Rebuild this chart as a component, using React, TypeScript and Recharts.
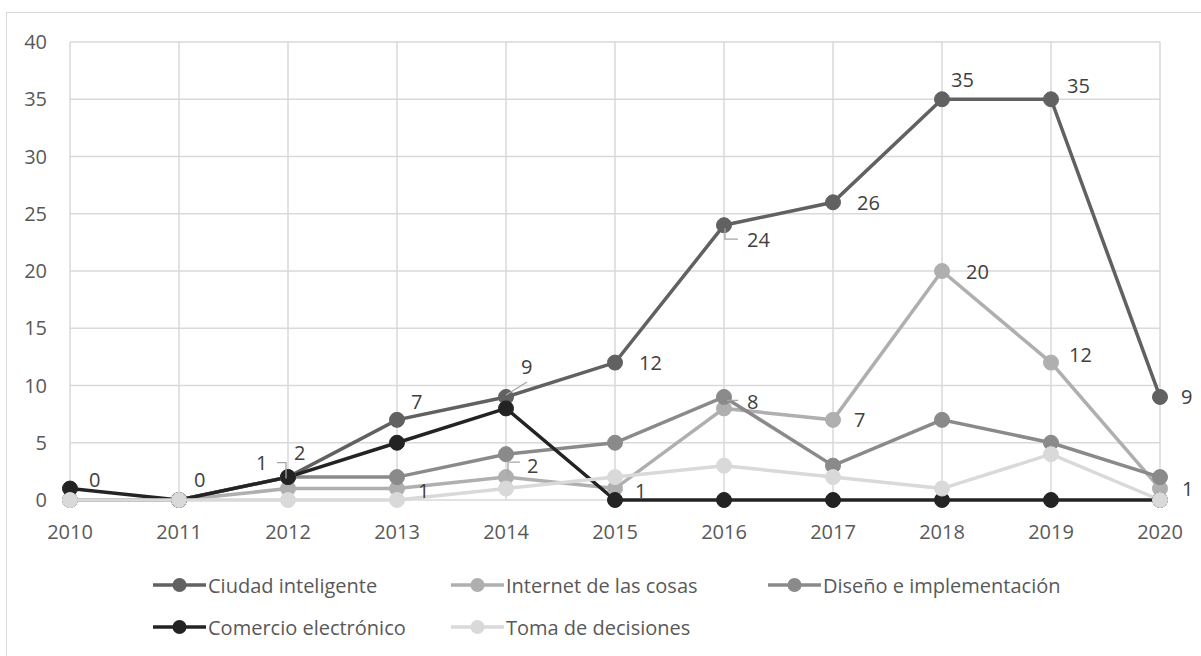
import React from 'react';
import { LineChart, Line, XAxis, YAxis, CartesianGrid, LabelList } from 'recharts';

const years = ['2010', '2011', '2012', '2013', '2014', '2015', '2016', '2017', '2018', '2019', '2020'];
const ciudadInteligente = [0, 0, 2, 7, 9, 12, 24, 26, 35, 35, 9];
const internetDeLasCosas = [0, 0, 1, 1, 2, 1, 8, 7, 20, 12, 1];
const disenoImplementacion = [0, 0, 2, 2, 4, 5, 9, 3, 7, 5, 2];
const comercioElectronico = [1, 0, 2, 5, 8, 0, 0, 0, 0, 0, 0];
const tomaDecisiones = [0, 0, 0, 0, 1, 2, 3, 2, 1, 4, 0];
const yTicks = [0, 5, 10, 15, 20, 25, 30, 35, 40];

const data = years.map((year, i) => ({
  year,
  ciudad: ciudadInteligente[i],
  internet: internetDeLasCosas[i],
  diseno: disenoImplementacion[i],
  comercio: comercioElectronico[i],
  toma: tomaDecisiones[i],
}));

const series = [
  { key: 'ciudad', name: 'Ciudad inteligente', color: '#616161' },
  { key: 'internet', name: 'Internet de las cosas', color: '#afafaf' },
  { key: 'diseno', name: 'Diseño e implementación', color: '#8a8a8a' },
  { key: 'comercio', name: 'Comercio electrónico', color: '#232323' },
  { key: 'toma', name: 'Toma de decisiones', color: '#d9d9d9' },
];

const FONT = '"Open Sans", "DejaVu Sans", sans-serif';
const LABEL_COLOR = '#404040';
const LEADER = '#a6a6a6';

// label placement (text start offset from point) and optional leader polylines
type Place = { dx: number; dy: number; leader?: number[][] } | null;
const ciudadPlace: Place[] = [
  { dx: 19, dy: -21 },
  { dx: 15, dy: -21 },
  { dx: 6, dy: -25 },
  { dx: 14, dy: -18 },
  { dx: 15, dy: -30, leader: [[0, -2], [21, -15]] },
  { dx: 24, dy: 0 },
  { dx: 23, dy: 14.5, leader: [[1, 3], [1, 14], [14, 14]] },
  { dx: 24, dy: 0 },
  { dx: 9, dy: -20 },
  { dx: 16, dy: -14 },
  { dx: 21, dy: 0 },
];
const internetPlace: Place[] = [
  null,
  null,
  { dx: -32, dy: -26, leader: [[-2, -10], [-2, -26], [-11, -26]] },
  { dx: 21, dy: 2 },
  { dx: 21, dy: -12, leader: [[2, -2], [2, -15], [14, -15]] },
  { dx: 20, dy: 2 },
  { dx: 23, dy: -7, leader: [[3, -8], [14, -8]] },
  { dx: 21, dy: 0 },
  { dx: 24, dy: 0 },
  { dx: 18, dy: -8 },
  { dx: 22, dy: 0 },
];

const makeLabel = (places: Place[]) => (props: any) => {
  const { x, y, value, index } = props;
  const p = places[index];
  if (!p || x == null || y == null) return null;
  return (
    <g>
      {p.leader && (
        <polyline
          points={p.leader.map(([a, b]) => `${x + a},${y + b}`).join(' ')}
          fill="none"
          stroke={LEADER}
          strokeWidth={1.3}
        />
      )}
      <text
        x={x + p.dx}
        y={y + p.dy}
        dominantBaseline="central"
        textAnchor="start"
        fontFamily={FONT}
        fontSize={20}
        fill={LABEL_COLOR}
      >
        {value}
      </text>
    </g>
  );
};

const legendPos = [
  { left: 152, top: 572 },
  { left: 450, top: 572 },
  { left: 767, top: 572 },
  { left: 152, top: 614 },
  { left: 450, top: 614 },
];

export default function App() {
  return (
    <div
      style={{
        position: 'absolute',
        left: 0,
        top: 0,
        width: 1201,
        height: 656,
        overflow: 'hidden',
        background: '#ffffff',
      }}
    >
      <div
        style={{
          position: 'absolute',
          left: 6,
          top: 12,
          width: 1240,
          height: 700,
          border: '1.5px solid #d9d9d9',
        }}
      />
      <div style={{ position: 'absolute', left: 0, top: 0 }}>
        <LineChart
          width={1201}
          height={656}
          data={data}
          margin={{ top: 42, right: 41, bottom: 126, left: 0 }}
        >
          <CartesianGrid stroke="#d9d9d9" strokeWidth={1.5} vertical={true} horizontal={true} />
          <XAxis
            dataKey="year"
            height={30}
            axisLine={false}
            tickLine={false}
            tickSize={0}
            tickMargin={25}
            interval={0}
            tick={{ fill: '#595959', fontSize: 20, fontFamily: FONT }}
          />
          <YAxis
            width={70}
            domain={[0, 40]}
            ticks={yTicks}
            axisLine={false}
            tickLine={false}
            tickSize={0}
            tickMargin={23}
            tick={{ fill: '#595959', fontSize: 20, fontFamily: FONT }}
          />
          {series.map((s) => (
            <Line
              key={s.key}
              dataKey={s.key}
              name={s.name}
              type="linear"
              stroke={s.color}
              strokeWidth={3.5}
              dot={{ r: 7.5, fill: s.color, stroke: s.color, strokeWidth: 1 }}
              activeDot={false}
              isAnimationActive={false}
            />
          ))}
          <Line
            key="ciudad-labels"
            dataKey="ciudad"
            legendType="none"
            stroke="none"
            dot={false}
            activeDot={false}
            isAnimationActive={false}
          >
            <LabelList dataKey="ciudad" content={makeLabel(ciudadPlace)} />
          </Line>
          <Line
            key="internet-labels"
            dataKey="internet"
            legendType="none"
            stroke="none"
            dot={false}
            activeDot={false}
            isAnimationActive={false}
          >
            <LabelList dataKey="internet" content={makeLabel(internetPlace)} />
          </Line>
        </LineChart>
      </div>
      {series.map((s, i) => (
        <div
          key={s.key}
          style={{
            position: 'absolute',
            left: legendPos[i].left,
            top: legendPos[i].top,
            height: 26,
            display: 'flex',
            alignItems: 'center',
            fontFamily: FONT,
            fontSize: 20,
            color: '#595959',
            whiteSpace: 'nowrap',
          }}
        >
          <svg width={55} height={26} style={{ display: 'block' }}>
            <line x1={1} y1={13} x2={54} y2={13} stroke={s.color} strokeWidth={3.5} />
            <circle cx={27.5} cy={13} r={7} fill={s.color} />
          </svg>
          <span style={{ marginLeft: 1 }}>{s.name}</span>
        </div>
      ))}
    </div>
  );
}
